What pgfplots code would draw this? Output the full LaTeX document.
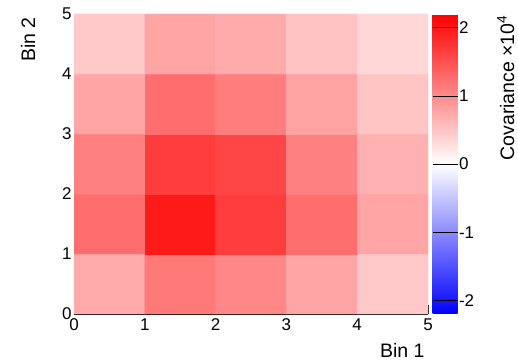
\documentclass[border=0pt]{standalone}
\usepackage{pgfplots}
\pgfplotsset{compat=1.18}
\usepackage{fontspec}
\setmainfont{Liberation Sans}
\begin{document}
\begin{tikzpicture}
\useasboundingbox (-74pt,-47pt) rectangle (444pt,314pt);
\begin{axis}[
  name=ax,
  at={(0pt,0pt)}, anchor=south west,
  scale only axis, width=354pt, height=300pt,
  xmin=0, xmax=5, ymin=0, ymax=5,
  enlargelimits=false,
  axis x line=bottom, axis y line=left,
  axis line style={-, black, line width=0.6pt},
  xtick={0,...,5}, ytick={0,...,5},
  minor tick num=4,
  tick align=inside,
  major tick length=9pt, minor tick length=5pt,
  tick style={black, line width=0.6pt},
  /pgf/number format/assume math mode=true,
  ticklabel style={font=\fontsize{17}{19}\selectfont},
  xticklabel style={yshift=-1pt},
  yticklabel style={xshift=1pt},
  xlabel={Bin 1}, ylabel={Bin 2},
  label style={font=\fontsize{19.5}{22}\selectfont},
  xlabel style={at={(axis description cs:1,-0.12)}, anchor=east},
  ylabel style={at={(axis description cs:-0.13,1)}, anchor=east, rotate=0},
  colormap={bwr}{rgb255(0)=(0,0,255) rgb255(1)=(255,255,255) rgb255(2)=(255,0,0)},
  point meta min=-2.2, point meta max=2.2,
  colorbar,
  colorbar/width=25pt,
  colorbar style={
    at={(parent axis.north east)}, anchor=north west, xshift=-4pt,
    scale only axis, enlargelimits=false,
    ytick={-2,-1,0,1,2},
    yticklabel pos=right,
    axis line style={draw=none},
    tick align=inside,
    major tick length=14pt,
    tick style={black, line width=0.6pt},
    /pgf/number format/assume math mode=true,
    yticklabel style={font=\fontsize{17}{19}\selectfont, xshift=-2pt},
    ylabel={Covariance ×10\textsuperscript{4}},
    ylabel style={font=\fontsize{19.5}{22}\selectfont, inner sep=1pt, at={(axis description cs:2.93,1)}, anchor=east, rotate=0},
  },
]
\addplot[matrix plot*, mesh/cols=5, point meta=explicit] table[meta=c] {
x y c
0.5 0.5 0.73
1.5 0.5 1.16
2.5 0.5 1.04
3.5 0.5 0.78
4.5 0.5 0.47
0.5 1.5 1.25
1.5 1.5 1.98
2.5 1.5 1.68
3.5 1.5 1.25
4.5 1.5 0.78
0.5 2.5 1.10
1.5 2.5 1.68
2.5 2.5 1.61
3.5 2.5 1.10
4.5 2.5 0.68
0.5 3.5 0.78
1.5 3.5 1.25
2.5 3.5 1.12
3.5 3.5 0.80
4.5 3.5 0.50
0.5 4.5 0.47
1.5 4.5 0.78
2.5 4.5 0.73
3.5 4.5 0.52
4.5 4.5 0.35
};
\end{axis}
\end{tikzpicture}
\end{document}
